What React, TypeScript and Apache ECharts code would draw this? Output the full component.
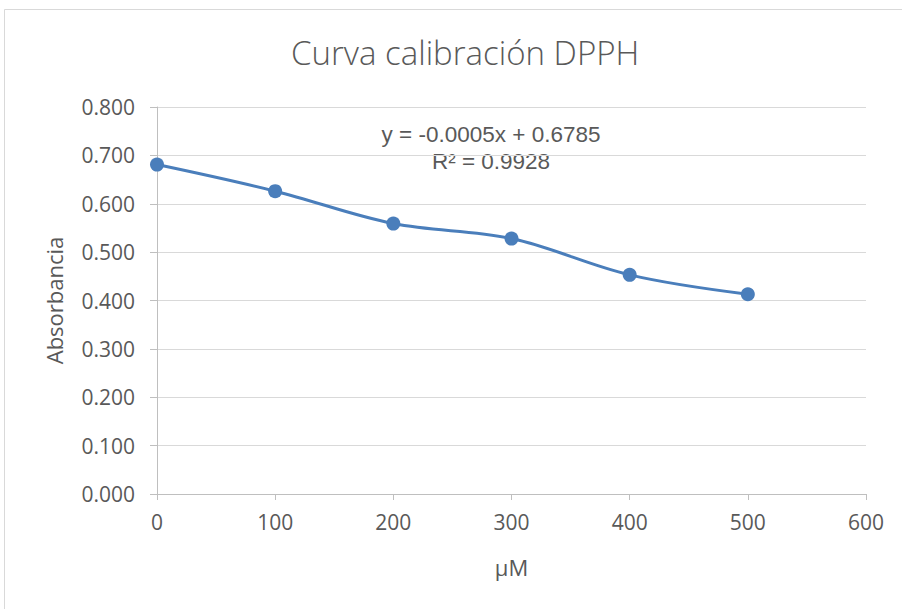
import React, { useEffect, useRef } from "react";
import * as echarts from "echarts";

const concentrations = [0, 100, 200, 300, 400, 500];
const absorbance = [0.681, 0.626, 0.559, 0.528, 0.453, 0.413];
const titleText = "Curva calibración DPPH";
const xAxisName = "µM";
const yAxisName = "Absorbancia";
const equationLines = ["y = -0.0005x + 0.6785", "R² = 0.9928"];

export default function App() {
  const ref = useRef<HTMLDivElement>(null);
  useEffect(() => {
    document.body.style.margin = "0";
    const chart = echarts.init(ref.current!, null, { renderer: "svg" });
    const font = "'Open Sans', sans-serif";
    chart.setOption({
      animation: false,
      backgroundColor: "#ffffff",
      title: {
        text: titleText,
        left: 286,
        top: 31,
        textStyle: { fontFamily: font, fontSize: 33, fontWeight: 300, color: "#595959" },
      },
      grid: { left: 157, right: 36, top: 107, bottom: 115 },
      xAxis: {
        type: "value",
        min: 0,
        max: 600,
        interval: 100,
        name: xAxisName,
        nameLocation: "middle",
        nameGap: 62,
        nameTextStyle: { fontFamily: font, fontSize: 22, color: "#595959" },
        axisLine: { show: true, lineStyle: { color: "#bfbfbf", width: 1 } },
        axisTick: { show: true, length: 6, lineStyle: { color: "#bfbfbf" } },
        axisLabel: { margin: 17, fontFamily: font, fontSize: 21, color: "#595959" },
        splitLine: { show: false },
      },
      yAxis: {
        type: "value",
        min: 0,
        max: 0.8,
        interval: 0.1,
        name: yAxisName,
        nameLocation: "middle",
        nameGap: 92,
        nameTextStyle: { fontFamily: font, fontSize: 22, color: "#595959" },
        axisLine: { show: true, lineStyle: { color: "#bfbfbf", width: 1 } },
        axisTick: { show: true, length: 7, lineStyle: { color: "#bfbfbf" } },
        axisLabel: {
          margin: 22,
          fontFamily: font,
          fontSize: 21,
          color: "#595959",
          formatter: (v: number) => v.toFixed(3),
        },
        splitLine: { show: true, lineStyle: { color: "#d9d9d9", width: 1 } },
      },
      graphic: [
        {
          type: "rect",
          shape: { x: 4.5, y: 9.5, width: 1000, height: 700 },
          style: { fill: "none", stroke: "#d9d9d9", lineWidth: 1 },
          silent: true,
        },
        {
          type: "text",
          x: 491,
          y: 148,
          style: {
            text: equationLines.join("\n"),
            align: "center",
            verticalAlign: "middle",
            lineHeight: 27,
            font: "22.5px 'Liberation Sans', Arial, sans-serif",
            fill: "#595959",
          },
        },
      ],
      series: [
        {
          type: "line",
          data: concentrations.map((x, i) => [x, absorbance[i]]),
          smooth: 0.35,
          symbol: "circle",
          symbolSize: 14,
          itemStyle: { color: "#4a7ebb" },
          lineStyle: { color: "#4a7ebb", width: 3 },
        },
      ],
    });
    return () => chart.dispose();
  }, []);
  return <div ref={ref} style={{ width: 902, height: 609 }} />;
}
